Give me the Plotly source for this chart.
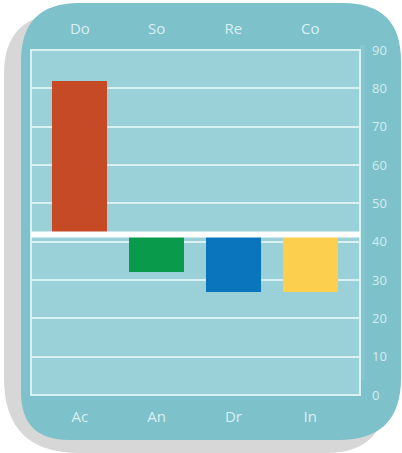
import plotly.graph_objects as go

# ---- data ----
bottom_labels = ["Ac", "An", "Dr", "In"]
top_labels = ["Do", "So", "Re", "Co"]
baseline = 41.9
bar_ends = [82, 32, 27, 27]
bar_colors = ["#c64a25", "#0a9a4b", "#0a74bc", "#fdcf4e"]
y_ticks = [0, 10, 20, 30, 40, 50, 60, 70, 80, 90]

W, H = 402, 453
ML, MR, MT, MB = 31, 42, 50, 58
PW, PH = W - ML - MR, H - MT - MB


def px(x):
    return (x - ML) / PW


def py(y):
    return (H - MB - y) / PH


def rrect(x0, y0, x1, y1, tl, tr, br, bl):
    pts = []
    pts.append(f"M {px(x0 + tl)},{py(y0)}")
    pts.append(f"L {px(x1 - tr)},{py(y0)}")
    pts.append(f"Q {px(x1)},{py(y0)} {px(x1)},{py(y0 + tr)}")
    pts.append(f"L {px(x1)},{py(y1 - br)}")
    pts.append(f"Q {px(x1)},{py(y1)} {px(x1 - br)},{py(y1)}")
    pts.append(f"L {px(x0 + bl)},{py(y1)}")
    pts.append(f"Q {px(x0)},{py(y1)} {px(x0)},{py(y1 - bl)}")
    pts.append(f"L {px(x0)},{py(y0 + tl)}")
    pts.append(f"Q {px(x0)},{py(y0)} {px(x0 + tl)},{py(y0)}")
    pts.append("Z")
    return " ".join(pts)


xs = list(range(len(bottom_labels)))
fig = go.Figure()
fig.add_trace(go.Bar(
    x=xs, y=[v - baseline for v in bar_ends], base=[baseline] * len(xs),
    marker=dict(color=bar_colors, line=dict(width=0)), width=0.72,
    hoverinfo="skip", showlegend=False,
))
fig.add_trace(go.Scatter(x=xs, y=[None] * len(xs), xaxis="x2", yaxis="y",
                         showlegend=False, hoverinfo="skip"))

shapes = [
    dict(type="path", xref="paper", yref="paper", layer="below",
         path=rrect(4, 14, 386, 453, 60, 50, 60, 75),
         fillcolor="#d7d7d7", line=dict(width=0)),
    dict(type="path", xref="paper", yref="paper", layer="below",
         path=rrect(21, 3, 401, 440, 58, 58, 62, 48),
         fillcolor="#7dc1cb", line=dict(width=0)),
    dict(type="rect", xref="paper", yref="paper", layer="below",
         x0=px(360), x1=px(365), y0=py(380), y1=py(45),
         fillcolor="#86c6cf", line=dict(width=0)),
    dict(type="rect", xref="paper", yref="paper", layer="below",
         x0=0, x1=1, y0=0, y1=1,
         fillcolor="#9ad0d8", line=dict(color="#d9f1f3", width=2)),
    dict(type="line", xref="paper", yref="y", layer="above",
         x0=0, x1=1, y0=baseline, y1=baseline,
         line=dict(color="#ffffff", width=6)),
]

xrange = [-0.636, 3.649]
fig.update_layout(
    width=W, height=H,
    margin=dict(l=ML, r=MR, t=MT, b=MB),
    paper_bgcolor="#ffffff", plot_bgcolor="rgba(0,0,0,0)",
    font=dict(family="Open Sans", color="#d9f0f3"),
    shapes=shapes,
    bargap=0,
    xaxis=dict(range=xrange, tickvals=xs, ticktext=bottom_labels,
               showgrid=False, zeroline=False, showline=False, ticks="",
               tickfont=dict(size=15, color="#d9f0f3"), ticklabelstandoff=11,
               fixedrange=True),
    xaxis2=dict(range=xrange, tickvals=xs, ticktext=top_labels, overlaying="x",
                side="top", anchor="y", showgrid=False, zeroline=False,
                showline=False, ticks="",
                tickfont=dict(size=15, color="#d9f0f3"), ticklabelstandoff=12,
                fixedrange=True),
    yaxis=dict(range=[0, 90], tickvals=y_ticks, side="right",
               showgrid=True, gridcolor="#d9f1f3", gridwidth=2,
               zeroline=False, showline=False, ticks="",
               tickfont=dict(size=13, color="#d3edf0"), ticklabelstandoff=11,
               fixedrange=True),
)

fig.write_html("out.html")
